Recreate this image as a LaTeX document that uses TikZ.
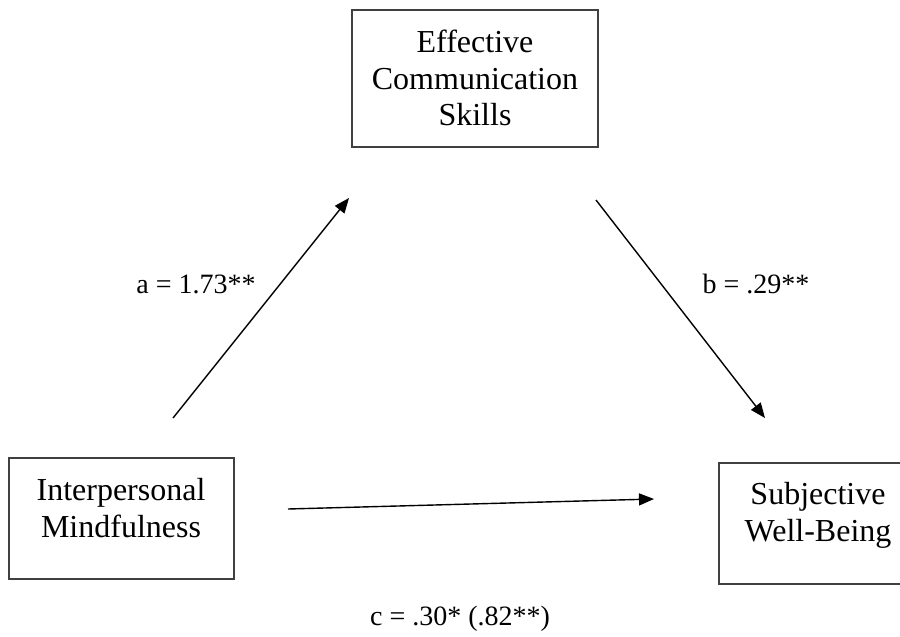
\documentclass[tikz,border=0pt]{standalone}
\usepackage{fontspec}
\setmainfont{Liberation Serif}
\usetikzlibrary{arrows.meta}
\begin{document}
\begin{tikzpicture}[x=0.5pt,y=-0.5pt,
  boxstyle/.style={draw=black!75,line width=0.9pt,fill=white,inner sep=0pt},
  boxtext/.style={align=center,font=\fontsize{16pt}{18.4pt}\selectfont,inner sep=0pt},
  coef/.style={font=\fontsize{14pt}{17pt}\selectfont,inner sep=0pt,anchor=base},
  path/.style={line width=0.7pt,-{Triangle[length=7.5pt,width=6pt]}}]
\useasboundingbox (0,0) rectangle (900,637);
% boxes
\node[boxstyle,minimum width=123pt,minimum height=68.5pt] (ecs) at (475,78.5) {};
\node[boxstyle,minimum width=112.5pt,minimum height=60.5pt] (im) at (121.5,518.5) {};
\node[boxstyle,minimum width=99pt,minimum height=60.5pt] (swb) at (818,523.5) {};
% box texts
\node[boxtext] (ecst) at (475,78) {Effective\\Communication\\Skills};
\node[boxtext] (imt) at (121,508) {Interpersonal\\Mindfulness};
\node[boxtext] (swbt) at (818,515) {Subjective\\Well-Being};
% arrow ends
\coordinate (a1) at (173,418);
\coordinate (a2) at (349,198);
\coordinate (b1) at (596,200);
\coordinate (b2) at (765,418);
\coordinate (c1) at (288,509);
\coordinate (c2) at (654,499);
\draw[path] (a1) -- (a2);
\draw[path] (b1) -- (b2);
\draw[path] (c1) -- (c2);
% coefficients
\node[coef] (la) at (196,293) {a = 1.73**};
\node[coef] (lb) at (756,293) {b = .29**};
\node[coef] (lc) at (460,625) {c = .30* (.82**)};
\end{tikzpicture}
\end{document}
